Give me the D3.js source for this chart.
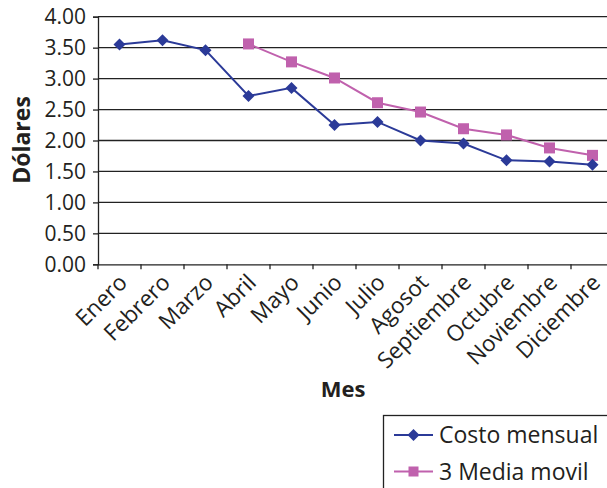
<!DOCTYPE html>
<html>
<head>
<meta charset="utf-8">
<script src="https://cdn.jsdelivr.net/npm/d3@7"></script>
<style>
  html, body { margin: 0; padding: 0; background: #fff; }
  svg { display: block; }
</style>
</head>
<body>
<svg id="chart" width="607" height="488"></svg>
<script>
// Monthly costs and their 3-month moving average
const meses = ["Enero", "Febrero", "Marzo", "Abril", "Mayo", "Junio", "Julio",
  "Agosot", "Septiembre", "Octubre", "Noviembre", "Diciembre"];
const costoMensual = [3.55, 3.62, 3.46, 2.72, 2.85, 2.25, 2.30, 2.00, 1.95, 1.68, 1.66, 1.61];
const mediaMovil = [null, null, null, 3.56, 3.27, 3.01, 2.61, 2.46, 2.19, 2.09, 1.88, 1.76];
const yTicks = [0, 0.5, 1, 1.5, 2, 2.5, 3, 3.5, 4];
const serieNombres = ["Costo mensual", "3 Media movil"];

const azul = "#2b3a98";
const rosa = "#c061ad";
const ink = "#231f20";
const font = "'Open Sans', 'Liberation Sans', sans-serif";

const svg = d3.select("#chart");
const plotL = 98, plotR = 614, plotT = 16.7, plotB = 264.3;

const x = d3.scaleBand().domain(meses).range([plotL, plotR]);
const y = d3.scaleLinear().domain([0, 4]).range([plotB, plotT]);
const cx = d => x(d) + x.bandwidth() / 2;

// horizontal gridlines
svg.append("g").selectAll("line").data(yTicks.slice(1)).join("line")
  .attr("x1", plotL).attr("x2", plotR)
  .attr("y1", d => y(d)).attr("y2", d => y(d))
  .attr("stroke", "#222").attr("stroke-width", 1.3);

// y axis
const yAxis = svg.append("g").attr("transform", `translate(${plotL},0)`)
  .call(d3.axisLeft(y).tickValues(yTicks).tickFormat(d3.format(".2f")).tickSize(5).tickPadding(7));
yAxis.select(".domain").attr("stroke", "#222").attr("stroke-width", 1.3);
yAxis.selectAll(".tick line").attr("stroke", "#222").attr("stroke-width", 1.3);
yAxis.selectAll("text").attr("font-family", font).attr("font-size", 21).attr("fill", ink);

// x axis with ticks at category boundaries
const xAxis = svg.append("g").attr("transform", `translate(0,${plotB})`)
  .call(d3.axisBottom(x).tickSize(0).tickFormat(""));
xAxis.select(".domain").attr("stroke", "#222").attr("stroke-width", 1.3);
xAxis.selectAll(".tick").remove();
xAxis.selectAll("line.bound").data(meses).join("line").attr("class", "bound")
  .attr("x1", d => x(d)).attr("x2", d => x(d)).attr("y1", 0).attr("y2", 5)
  .attr("stroke", "#222").attr("stroke-width", 1.3);

// rotated month labels, ending under each category centre
svg.append("g").selectAll("text").data(meses).join("text")
  .attr("transform", d => `translate(${cx(d) - 2},${plotB + 8.5}) rotate(-45)`)
  .attr("text-anchor", "end").attr("dy", "0.7em")
  .attr("font-family", font).attr("font-size", 22.5).attr("fill", ink)
  .text(d => d);

// axis titles
svg.append("text")
  .attr("transform", `translate(30,${(plotT + plotB) / 2 - 0.5}) rotate(-90)`)
  .attr("text-anchor", "middle")
  .attr("font-family", font).attr("font-weight", "bold").attr("font-size", 23).attr("fill", ink)
  .text("Dólares");
svg.append("text")
  .attr("x", 343).attr("y", 397).attr("text-anchor", "middle")
  .attr("font-family", font).attr("font-weight", "bold").attr("font-size", 22).attr("fill", ink)
  .text("Mes");

const line = d3.line().defined(d => d.v != null).x(d => cx(d.m)).y(d => y(d.v));

const s1 = meses.map((m, i) => ({ m, v: costoMensual[i] }));
const s2 = meses.map((m, i) => ({ m, v: mediaMovil[i] }));

// square diamond marker
const rombo = {
  draw(ctx, size) {
    const r = Math.sqrt(size / 2);
    ctx.moveTo(0, -r); ctx.lineTo(r, 0); ctx.lineTo(0, r); ctx.lineTo(-r, 0); ctx.closePath();
  }
};
const diamond = d3.symbol().type(rombo).size(72);

// moving-average series
svg.append("path").datum(s2).attr("d", line)
  .attr("fill", "none").attr("stroke", rosa).attr("stroke-width", 2);
svg.append("g").selectAll("rect").data(s2.filter(d => d.v != null)).join("rect")
  .attr("x", d => cx(d.m) - 5.5).attr("y", d => y(d.v) - 5.5)
  .attr("width", 11).attr("height", 11).attr("fill", rosa);

// monthly cost series
svg.append("path").datum(s1).attr("d", line)
  .attr("fill", "none").attr("stroke", azul).attr("stroke-width", 2);
svg.append("g").selectAll("path").data(s1).join("path")
  .attr("transform", d => `translate(${cx(d.m)},${y(d.v)})`)
  .attr("d", diamond).attr("fill", azul);

// legend
const lg = svg.append("g");
lg.append("rect").attr("x", 383.5).attr("y", 415.5).attr("width", 240).attr("height", 100)
  .attr("fill", "#fff").attr("stroke", "#222").attr("stroke-width", 1.3);
const rows = [
  { name: serieNombres[0], color: azul, shape: "diamond", yy: 435 },
  { name: serieNombres[1], color: rosa, shape: "square", yy: 471.5 }
];
rows.forEach(r => {
  lg.append("line").attr("x1", 394).attr("x2", 433).attr("y1", r.yy).attr("y2", r.yy)
    .attr("stroke", r.color).attr("stroke-width", 2);
  if (r.shape === "diamond") {
    lg.append("path").attr("transform", `translate(413.5,${r.yy})`).attr("d", diamond).attr("fill", r.color);
  } else {
    lg.append("rect").attr("x", 408.5).attr("y", r.yy - 5).attr("width", 10).attr("height", 10).attr("fill", r.color);
  }
  lg.append("text").attr("x", 439).attr("y", r.yy).attr("dy", "0.36em")
    .attr("font-family", font).attr("font-size", 23).attr("fill", ink)
    .text(r.name);
});
</script>
</body>
</html>
